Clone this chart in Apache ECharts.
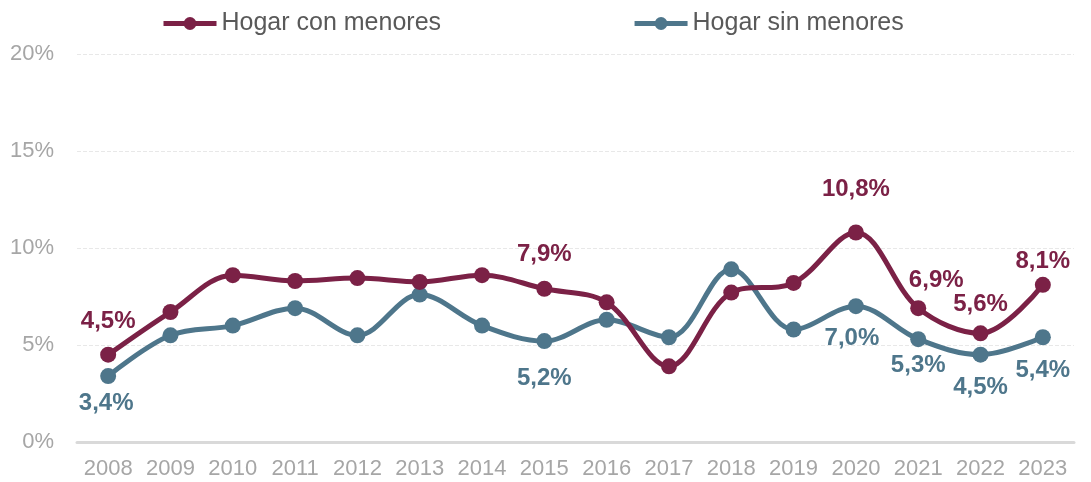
<!DOCTYPE html>
<html>
<head>
<meta charset="utf-8">
<script src="https://cdn.jsdelivr.net/npm/echarts@6/dist/echarts.min.js"></script>
<style>
  html, body { margin: 0; padding: 0; background: #fff; }
  #chart { width: 1091px; height: 482px; }
</style>
</head>
<body>
<div id="chart"></div>
<script>
    var years = ['2008', '2009', '2010', '2011', '2012', '2013', '2014', '2015',
                 '2016', '2017', '2018', '2019', '2020', '2021', '2022', '2023'];
    var conMenores = [4.5, 6.7, 8.6, 8.3, 8.45, 8.25, 8.6, 7.9, 7.2, 3.9, 7.7, 8.2, 10.8, 6.9, 5.6, 8.1];
    var sinMenores = [3.4, 5.5, 6.0, 6.9, 5.5, 7.6, 6.0, 5.2, 6.3, 5.4, 8.9, 5.8, 7.0, 5.3, 4.5, 5.4];
    var yTicks = [0, 5, 10, 15, 20];

    // which points carry a label
    var conLabelIdx = [0, 7, 12, 13, 14, 15];
    var sinLabelIdx = [0, 7, 12, 13, 14, 15];

    var colorCon = '#7b2146';
    var colorSin = '#4e768b';

    // label offset from the point centre
    var conOffsets = [[0, -33], [0, -34], [0, -43], [18, -28], [0, -29], [0, -23]];
    var sinOffsets = [[-2, 27], [0, 37], [-4, 32], [0, 26], [0, 33], [0, 33]];

    function fmt(v){
        return v.toFixed(1).replace('.', ',') + '%';
    }

    function buildData(values, labelIdx, color, offsets){
        return values.map(function(v, i){
            var k = labelIdx.indexOf(i);
            if(k === -1){
                return v;
            }
            return {
                value: v,
                label: {
                    show: true,
                    position: 'inside',
                    offset: offsets[k],
                    formatter: fmt(v),
                    color: color,
                    fontSize: 24,
                    fontWeight: 'bold',
                    fontFamily: 'Liberation Sans'
                }
            };
        });
    }

    var chart = echarts.init(document.getElementById('chart'));

    var option = {
        animation: false,
        legend: {
            top: 6,
            left: 156,
            itemGap: 191,
            itemWidth: 53,
            itemHeight: 16,
            lineStyle: { width: 5 },
            textStyle: { fontSize: 25, color: '#595959', fontFamily: 'Liberation Sans' },
            data: ['Hogar con menores', 'Hogar sin menores']
        },
        grid: { left: 77, right: 17, top: 54, bottom: 40 },
        xAxis: {
            type: 'category',
            data: years,
            axisLine: { lineStyle: { color: '#d9d9d9', width: 3 } },
            axisTick: { show: false },
            axisLabel: { interval: 0, color: '#a6a6a6', fontSize: 22, margin: 16, fontFamily: 'Liberation Sans' }
        },
        yAxis: {
            type: 'value',
            min: yTicks[0],
            max: yTicks[yTicks.length - 1],
            interval: 5,
            axisLine: { show: false },
            axisTick: { show: false },
            axisLabel: { color: '#a6a6a6', fontSize: 22, margin: 23, fontFamily: 'Liberation Sans',
                formatter: function(v){ return v + '%'; } },
            splitLine: { lineStyle: { color: '#e8e8e8', type: 'dashed', width: 1 } }
        },
        series: [{
            name: 'Hogar con menores',
            type: 'line',
            smooth: 0.35,
            symbol: 'circle',
            symbolSize: 16,
            lineStyle: { width: 5, color: colorCon },
            itemStyle: { color: colorCon },
            data: buildData(conMenores, conLabelIdx, colorCon, conOffsets),
            z: 3
        }, {
            name: 'Hogar sin menores',
            type: 'line',
            smooth: 0.35,
            symbol: 'circle',
            symbolSize: 16,
            lineStyle: { width: 5, color: colorSin },
            itemStyle: { color: colorSin },
            data: buildData(sinMenores, sinLabelIdx, colorSin, sinOffsets),
            z: 2
        }]
    };

    chart.setOption(option);
</script>
</body>
</html>
